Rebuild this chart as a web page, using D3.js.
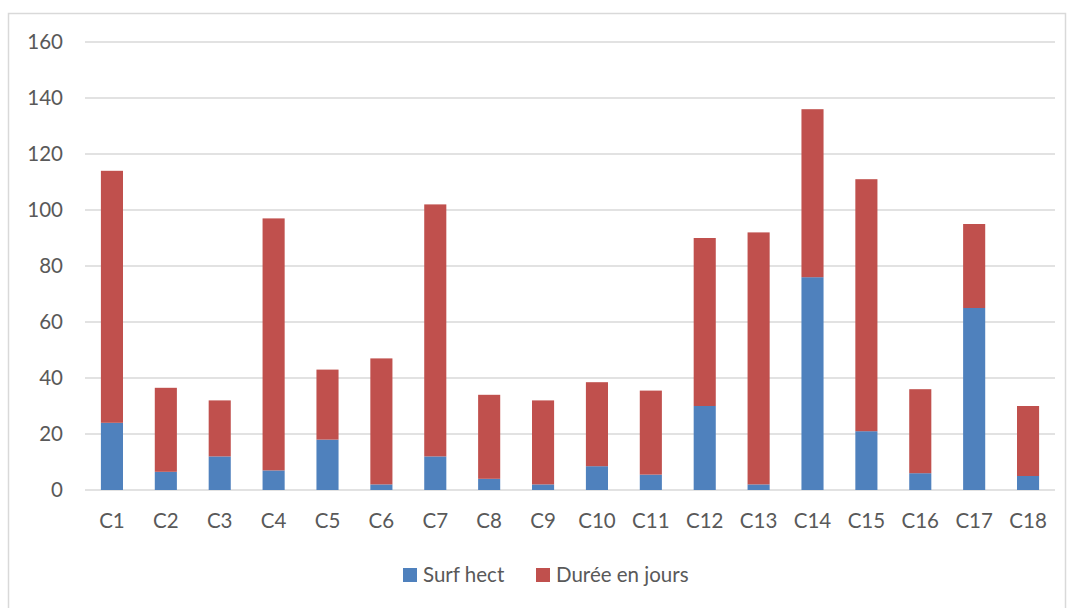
<!DOCTYPE html>
<html>
<head>
<meta charset="utf-8">
<script src="https://cdn.jsdelivr.net/npm/d3@7"></script>
<style>
  body { margin: 0; background: #fff; }
  text { font-family: Lato, "Open Sans", sans-serif; fill: #595959; }
</style>
</head>
<body>
<div id="chart"></div>
<script>
var categories = ["C1","C2","C3","C4","C5","C6","C7","C8","C9","C10","C11","C12","C13","C14","C15","C16","C17","C18"];
var surfHect = [24, 6.5, 12, 7, 18, 2, 12, 4, 2, 8.5, 5.5, 30, 2, 76, 21, 6, 65, 5];
var dureeJours = [90, 30, 20, 90, 25, 45, 90, 30, 30, 30, 30, 60, 90, 60, 90, 30, 30, 25];
var seriesNames = ["Surf hect", "Durée en jours"];
var seriesColors = ["#4f81bd", "#c0504d"];
var yTicks = [0, 20, 40, 60, 80, 100, 120, 140, 160];

var width = 1070, height = 608;
var plotLeft = 85, plotRight = 1055, plotTop = 42, plotBottom = 490;

var svg = d3.select("#chart").append("svg")
    .attr("width", width)
    .attr("height", height);

// chart border
svg.append("rect")
    .attr("x", 8.5).attr("y", 13.5)
    .attr("width", 1057).attr("height", 610)
    .attr("fill", "none")
    .attr("stroke", "#d9d9d9")
    .attr("stroke-width", 1.5);

var x = d3.scaleBand().domain(categories).range([plotLeft, plotRight]).paddingInner(0.59).paddingOuter(0.295);
var y = d3.scaleLinear().domain([0, 160]).range([plotBottom, plotTop]);

// gridlines
svg.append("g").selectAll("line")
    .data(yTicks)
    .enter()
    .append("line")
    .attr("x1", plotLeft).attr("x2", plotRight)
    .attr("y1", function(d) { return y(d); })
    .attr("y2", function(d) { return y(d); })
    .attr("stroke", "#d9d9d9")
    .attr("stroke-width", 1.5);

// y labels
svg.append("g").selectAll("text")
    .data(yTicks)
    .enter()
    .append("text")
    .attr("x", 63)
    .attr("y", function(d) { return y(d); })
    .attr("dy", "0.35em")
    .attr("text-anchor", "end")
    .style("font-size", "20.5px")
    .text(function(d) { return d; });

// stacked bars
var rows = categories.map(function(c, i) {
    return { cat: c, s0: surfHect[i], s1: dureeJours[i] };
});
var stack = d3.stack().keys(["s0", "s1"]);
var layers = stack(rows);

svg.append("g").selectAll("g")
    .data(layers)
    .enter()
    .append("g")
    .attr("fill", function(d, i) { return seriesColors[i]; })
    .selectAll("rect")
    .data(function(d) { return d; })
    .enter()
    .append("rect")
    .attr("x", function(d) { return x(d.data.cat); })
    .attr("y", function(d) { return y(d[1]); })
    .attr("width", x.bandwidth())
    .attr("height", function(d) { return y(d[0]) - y(d[1]); });

// x labels
svg.append("g").selectAll("text")
    .data(categories)
    .enter()
    .append("text")
    .attr("x", function(d) { return x(d) + x.bandwidth() / 2; })
    .attr("y", 528)
    .attr("text-anchor", "middle")
    .style("font-size", "20.5px")
    .text(function(d) { return d; });

// legend
var legendX = [403, 536];
var lg = svg.append("g").selectAll("g")
    .data(seriesNames)
    .enter()
    .append("g")
    .attr("transform", function(d, i) { return "translate(" + legendX[i] + ",568)"; });
lg.append("rect")
    .attr("width", 14).attr("height", 14)
    .attr("fill", function(d, i) { return seriesColors[i]; });
lg.append("text")
    .attr("x", 20).attr("y", 7)
    .attr("dy", "0.35em")
    .style("font-size", "20.5px")
    .text(function(d) { return d; });
</script>
</body>
</html>
